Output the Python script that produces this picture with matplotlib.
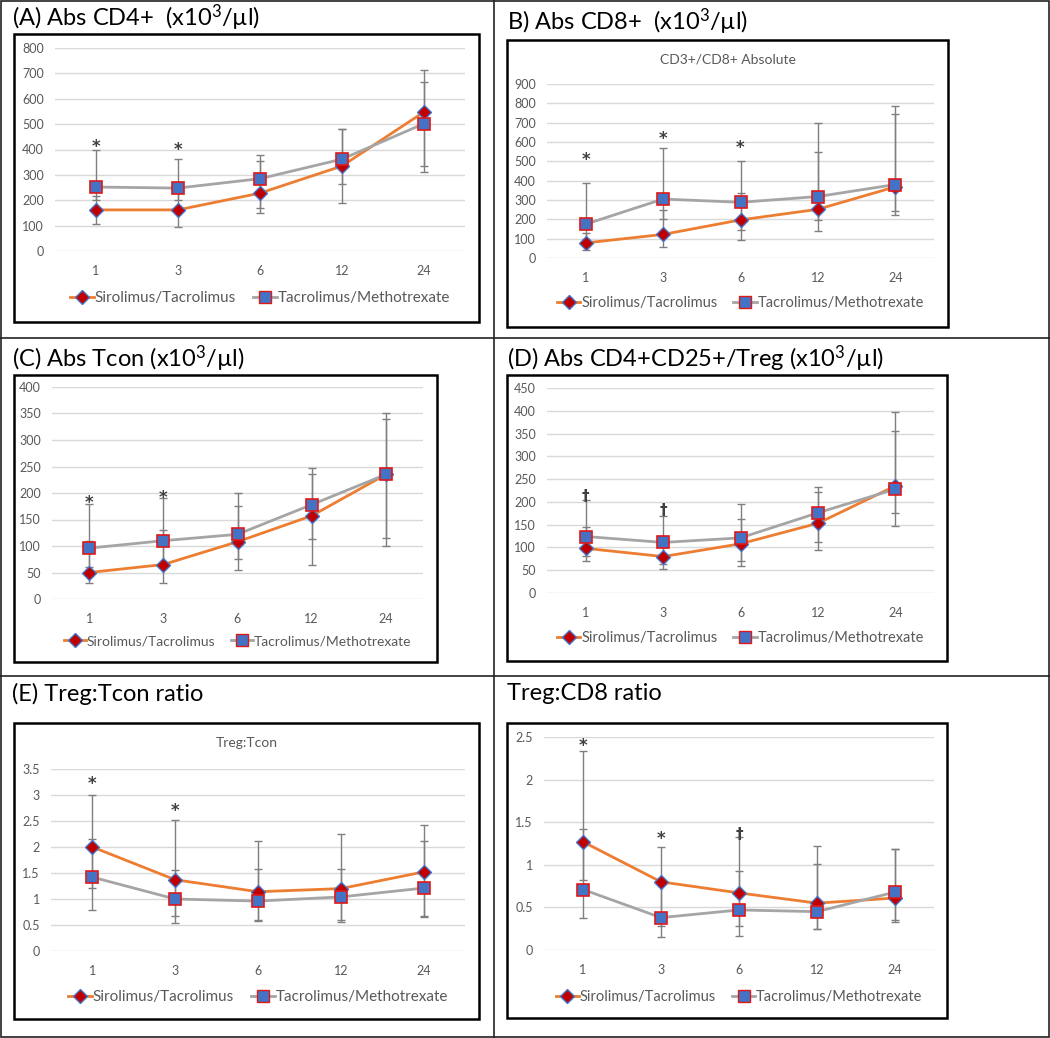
import matplotlib
matplotlib.use("Agg")
import matplotlib.pyplot as plt
from matplotlib.patches import Rectangle
from matplotlib.lines import Line2D

plt.rcParams['font.family'] = ['Lato', 'DejaVu Sans']
plt.rcParams['mathtext.fontset'] = 'custom'
plt.rcParams['mathtext.rm'] = 'Lato'
plt.rcParams['mathtext.it'] = 'Lato:italic'
plt.rcParams['mathtext.bf'] = 'Lato:bold'

months = ["1", "3", "6", "12", "24"]
series_names = ["Sirolimus/Tacrolimus", "Tacrolimus/Methotrexate"]

# Panel A: Abs CD4+
a_sir = [162, 162, 228, 335, 548]
a_sir_lo = [105, 95, 148, 190, 335]
a_sir_hi = [215, 270, 355, 480, 715]
a_tac = [252, 248, 285, 362, 502]
a_tac_lo = [200, 200, 170, 265, 310]
a_tac_hi = [400, 362, 378, 480, 665]
a_marks = [(0, "*", 410), (1, "*", 398)]

# Panel B: Abs CD8+
b_sir = [78, 122, 197, 252, 368]
b_sir_lo = [40, 58, 95, 140, 225]
b_sir_hi = [130, 250, 335, 550, 745]
b_tac = [175, 305, 288, 318, 380]
b_tac_lo = [100, 200, 145, 195, 245]
b_tac_hi = [390, 570, 500, 700, 785]
b_marks = [(0, "*", 507), (1, "*", 615), (2, "*", 569)]

# Panel C: Abs Tcon
c_sir = [50, 65, 108, 157, 235]
c_sir_lo = [30, 30, 55, 65, 100]
c_sir_hi = [110, 130, 175, 235, 340]
c_tac = [96, 110, 122, 178, 235]
c_tac_lo = [60, 60, 75, 113, 115]
c_tac_hi = [180, 190, 200, 247, 350]
c_marks = [(0, "*", 181), (1, "*", 190)]

# Panel D: Abs CD4+CD25+/Treg
d_sir = [98, 80, 108, 153, 235]
d_sir_lo = [70, 53, 60, 95, 148]
d_sir_hi = [145, 125, 162, 222, 355]
d_tac = [124, 111, 121, 176, 228]
d_tac_lo = [82, 63, 70, 113, 175]
d_tac_hi = [205, 168, 195, 232, 398]
d_marks = [(0, "\u2020", 211), (1, "\u2020", 180)]

# Panel E: Treg:Tcon ratio
e_sir = [2.0, 1.37, 1.14, 1.20, 1.52]
e_sir_lo = [1.22, 0.68, 0.60, 0.60, 0.68]
e_sir_hi = [3.0, 2.52, 2.12, 2.25, 2.42]
e_tac = [1.42, 1.0, 0.96, 1.04, 1.21]
e_tac_lo = [0.78, 0.53, 0.57, 0.55, 0.65]
e_tac_hi = [2.15, 1.55, 1.58, 1.58, 2.12]
e_marks = [(0, "*", 3.21), (1, "*", 2.69)]

# Panel F: Treg:CD8 ratio
f_sir = [1.27, 0.80, 0.67, 0.55, 0.61]
f_sir_lo = [0.82, 0.28, 0.28, 0.25, 0.35]
f_sir_hi = [2.33, 1.21, 1.33, 1.22, 1.18]
f_tac = [0.71, 0.38, 0.47, 0.45, 0.68]
f_tac_lo = [0.38, 0.15, 0.17, 0.25, 0.33]
f_tac_hi = [1.42, 0.80, 0.93, 1.01, 1.18]
f_marks = [(0, "*", 2.39), (1, "*", 1.30), (2, "\u2020", 1.36)]

W, H = 1050, 1038
fig = plt.figure(figsize=(W / 100, H / 100), dpi=100)

def fx(x):
    return x / W

def fy(y):
    return 1 - y / H

def rect_px(x0, y0, x1, y1, lw=1.5, color="black"):
    fig.add_artist(Rectangle((fx(x0), fy(y1)), fx(x1) - fx(x0), fy(y0) - fy(y1),
                             transform=fig.transFigure, fill=False,
                             edgecolor=color, linewidth=lw))

def line_px(x0, y0, x1, y1, lw=1.2, color="black"):
    fig.add_artist(Line2D([fx(x0), fx(x1)], [fy(y0), fy(y1)],
                          transform=fig.transFigure, color=color, linewidth=lw))

# outer grid
rect_px(1, 1, 1049, 1037, lw=1.2, color="#222222")
line_px(494, 0, 494, 1038, color="#222222")
line_px(0, 338, 1050, 338, color="#222222")
line_px(0, 676, 1050, 676, color="#222222")

ORANGE = "#ED7D31"
GRAY_LINE = "#A5A5A5"
DARKRED = "#C00000"
BLUE = "#4472C4"
RED_EDGE = "#E01818"
ERR = "#7F7F7F"
TICK = "#595959"

def panel(title, tx, ty, box, area, ylim, yticks, sir, sir_lo, sir_hi,
          tac, tac_lo, tac_hi, marks, chart_title=None, ct_y=None,
          legend_y=None, legend_fs=11, ytick_fmt="{:g}"):
    fig.text(fx(tx), fy(ty), title, fontsize=17, ha="left", va="center", color="black")
    rect_px(*box, lw=1.8)
    x0, y0, x1, y1 = area
    ax = fig.add_axes([fx(x0), fy(y1), fx(x1) - fx(x0), fy(y0) - fy(y1)])
    xs = list(range(len(months)))
    ax.set_xlim(-0.5, len(months) - 0.5)
    ax.set_ylim(*ylim)
    ax.set_yticks(yticks)
    ax.set_yticklabels([ytick_fmt.format(t) for t in yticks])
    ax.set_xticks(xs)
    ax.set_xticklabels(months)
    ax.grid(axis="y", color="#D9D9D9", linewidth=1)
    ax.set_axisbelow(True)
    for s in ax.spines.values():
        s.set_visible(False)
    ax.tick_params(length=0, colors=TICK, labelsize=9)
    ax.tick_params(axis="x", pad=10)
    ax.tick_params(axis="y", pad=8)
    ax.patch.set_alpha(0)
    ax.errorbar(xs, sir, yerr=[[v - l for v, l in zip(sir, sir_lo)],
                               [h - v for v, h in zip(sir, sir_hi)]],
                fmt="none", ecolor=ERR, elinewidth=1, capsize=3, capthick=1, zorder=2)
    ax.errorbar(xs, tac, yerr=[[v - l for v, l in zip(tac, tac_lo)],
                               [h - v for v, h in zip(tac, tac_hi)]],
                fmt="none", ecolor=ERR, elinewidth=1, capsize=3, capthick=1, zorder=2)
    ax.plot(xs, sir, color=ORANGE, linewidth=2, zorder=3)
    ax.plot(xs, tac, color=GRAY_LINE, linewidth=2, zorder=3)
    ax.plot(xs, sir, linestyle="none", marker="D", markersize=7.5,
            markerfacecolor=DARKRED, markeredgecolor=BLUE, markeredgewidth=1, zorder=4)
    ax.plot(xs, tac, linestyle="none", marker="s", markersize=9,
            markerfacecolor=BLUE, markeredgecolor=RED_EDGE, markeredgewidth=1.2, zorder=5)
    for i, sym, yv in marks:
        ax.text(i, yv, sym, ha="center", va="center", fontsize=12 if sym == "*" else 11,
                color="#404040", fontweight="bold", family=["DejaVu Sans"])
    if chart_title:
        fig.text(fx((box[0] + box[2]) / 2), fy(ct_y), chart_title, fontsize=10,
                 color=TICK, ha="center", va="center")
    h1 = Line2D([], [], color=ORANGE, linewidth=2, marker="D", markersize=7,
                markerfacecolor=DARKRED, markeredgecolor=BLUE)
    h2 = Line2D([], [], color=GRAY_LINE, linewidth=2, marker="s", markersize=8,
                markerfacecolor=BLUE, markeredgecolor=RED_EDGE)
    cx = (x0 + x1) / 2
    fig.legend([h1, h2], series_names, loc="center",
               bbox_to_anchor=(fx(cx), fy(legend_y)), ncol=2, frameon=False,
               fontsize=legend_fs, handlelength=1.6, handletextpad=0.05,
               columnspacing=1.1, labelcolor=TICK)
    return ax

panel("(A) Abs CD4+  (x10$^{3}$/µl)", 12, 18, (14, 34, 479, 322), (55, 48, 465, 251),
      (0, 800), list(range(0, 801, 100)), a_sir, a_sir_lo, a_sir_hi,
      a_tac, a_tac_lo, a_tac_hi, a_marks, legend_y=298, legend_fs=11)

panel("B) Abs CD8+  (x10$^{3}$/µl)", 507, 22, (507, 40, 948, 327), (547, 84, 934, 258),
      (0, 900), list(range(0, 901, 100)), b_sir, b_sir_lo, b_sir_hi,
      b_tac, b_tac_lo, b_tac_hi, b_marks, chart_title="CD3+/CD8+ Absolute", ct_y=60,
      legend_y=303, legend_fs=10.5)

panel("(C) Abs Tcon (x10$^{3}$/µl)", 12, 359, (14, 375, 437, 662), (52, 387, 423, 599),
      (0, 400), list(range(0, 401, 50)), c_sir, c_sir_lo, c_sir_hi,
      c_tac, c_tac_lo, c_tac_hi, c_marks, legend_y=641, legend_fs=10)

panel("(D) Abs CD4+CD25+/Treg (x10$^{3}$/µl)", 507, 359, (507, 375, 947, 661), (547, 388, 934, 593),
      (0, 450), list(range(0, 451, 50)), d_sir, d_sir_lo, d_sir_hi,
      d_tac, d_tac_lo, d_tac_hi, d_marks, legend_y=638, legend_fs=10.5)

panel("(E) Treg:Tcon ratio", 12, 694, (14, 723, 479, 1019), (51, 769, 465, 951),
      (0, 3.5), [0, 0.5, 1, 1.5, 2, 2.5, 3, 3.5], e_sir, e_sir_lo, e_sir_hi,
      e_tac, e_tac_lo, e_tac_hi, e_marks, chart_title="Treg:Tcon", ct_y=743,
      legend_y=997, legend_fs=11)

panel("Treg:CD8 ratio", 507, 694, (507, 723, 947, 1018), (544, 737, 934, 950),
      (0, 2.5), [0, 0.5, 1, 1.5, 2, 2.5], f_sir, f_sir_lo, f_sir_hi,
      f_tac, f_tac_lo, f_tac_hi, f_marks, legend_y=997, legend_fs=10.5)

fig.savefig("out.png", dpi=100)
